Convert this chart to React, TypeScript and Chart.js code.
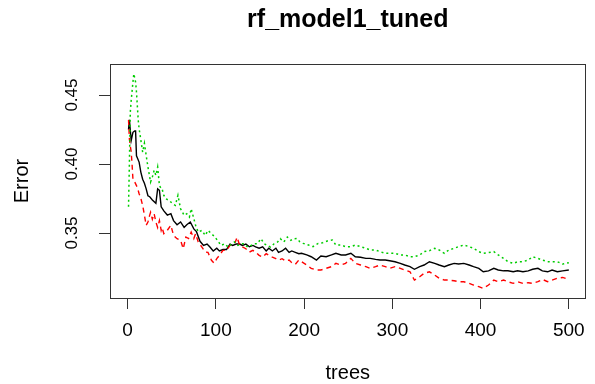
import React, { useEffect, useRef } from "react";
import { Chart, registerables } from "chart.js";

Chart.register(...registerables);

const chartTitle = "rf_model1_tuned";
const xLabel = "trees";
const yLabel = "Error";
const xTicks = [0, 100, 200, 300, 400, 500];
const yTicks = [0.35, 0.4, 0.45];

// OOB error (black, solid)
const oobTrees = [1, 2, 4, 6, 8, 9, 10, 13, 15, 17, 19, 21, 23, 25, 28, 32, 34, 36, 38, 41, 45, 49, 52, 56, 60, 64, 67, 71, 75, 78, 82, 86, 90, 93, 97, 101, 104, 108, 112, 116, 119, 123, 127, 130, 134, 138, 142, 145, 149, 153, 157, 160, 164, 168, 171, 175, 179, 183, 186, 190, 194, 197, 203, 208, 214, 219, 225, 231, 236, 242, 247, 253, 258, 264, 270, 275, 281, 286, 292, 297, 303, 309, 314, 320, 325, 331, 336, 342, 348, 353, 359, 364, 370, 375, 381, 387, 392, 398, 403, 409, 415, 420, 426, 431, 437, 442, 448, 454, 459, 465, 470, 476, 481, 487, 493, 500];
const oobErr = [0.425, 0.432, 0.417, 0.423, 0.424, 0.424, 0.406, 0.4014, 0.394, 0.389, 0.386, 0.382, 0.377, 0.3763, 0.374, 0.3715, 0.382, 0.381, 0.369, 0.366, 0.363, 0.364, 0.359, 0.356, 0.358, 0.354, 0.356, 0.358, 0.353, 0.351, 0.344, 0.341, 0.342, 0.34, 0.337, 0.339, 0.337, 0.338, 0.338, 0.342, 0.341, 0.342, 0.342, 0.341, 0.342, 0.34, 0.341, 0.34, 0.339, 0.34, 0.337, 0.339, 0.337, 0.339, 0.336, 0.337, 0.339, 0.336, 0.337, 0.336, 0.335, 0.3353, 0.3341, 0.3328, 0.3304, 0.3333, 0.3328, 0.3341, 0.3353, 0.3341, 0.3341, 0.3353, 0.3328, 0.3324, 0.3316, 0.3316, 0.3309, 0.3304, 0.3304, 0.3299, 0.3292, 0.328, 0.3268, 0.3256, 0.3237, 0.3256, 0.3268, 0.3292, 0.328, 0.3268, 0.3256, 0.3268, 0.328, 0.3275, 0.328, 0.3268, 0.3256, 0.3244, 0.3219, 0.3226, 0.3244, 0.3232, 0.3226, 0.3226, 0.3219, 0.3226, 0.3219, 0.3226, 0.3237, 0.3244, 0.3226, 0.3219, 0.3232, 0.3219, 0.3226, 0.3232];

// class 1 error (red, dashed)
const redTrees = [1, 2, 3, 4, 5, 6, 8, 11, 13, 15, 17, 19, 21, 23, 25, 26, 28, 30, 32, 34, 36, 38, 39, 41, 45, 49, 52, 56, 60, 63, 66, 69, 72, 75, 77, 80, 84, 88, 91, 95, 98, 101, 104, 108, 112, 116, 119, 122, 124, 127, 130, 134, 138, 142, 145, 149, 153, 157, 160, 164, 168, 171, 175, 179, 183, 186, 190, 194, 197, 203, 208, 214, 219, 225, 231, 236, 242, 247, 253, 258, 264, 270, 275, 281, 286, 292, 297, 303, 309, 314, 320, 325, 331, 336, 342, 348, 353, 359, 364, 370, 375, 381, 387, 392, 398, 403, 409, 415, 420, 426, 431, 437, 442, 448, 454, 459, 465, 470, 476, 481, 487, 493, 500];
const redErr = [0.432, 0.418, 0.413, 0.409, 0.4, 0.389, 0.387, 0.383, 0.3785, 0.375, 0.37, 0.363, 0.3556, 0.358, 0.363, 0.365, 0.36, 0.364, 0.358, 0.354, 0.359, 0.352, 0.354, 0.3495, 0.352, 0.3556, 0.3483, 0.3459, 0.3447, 0.3386, 0.3471, 0.346, 0.3507, 0.346, 0.3495, 0.3435, 0.3399, 0.3362, 0.336, 0.3302, 0.3281, 0.3314, 0.3338, 0.3374, 0.3374, 0.341, 0.3422, 0.3434, 0.347, 0.341, 0.3399, 0.3386, 0.3362, 0.3374, 0.3362, 0.3338, 0.3325, 0.335, 0.3338, 0.3325, 0.3314, 0.3304, 0.3314, 0.3297, 0.3304, 0.3285, 0.3273, 0.3304, 0.3292, 0.3268, 0.3244, 0.3232, 0.3232, 0.3244, 0.3256, 0.328, 0.3268, 0.328, 0.3316, 0.328, 0.3268, 0.3256, 0.3244, 0.3256, 0.3268, 0.3256, 0.3244, 0.3256, 0.3244, 0.3232, 0.3219, 0.3159, 0.3183, 0.3208, 0.3219, 0.3195, 0.3172, 0.3159, 0.3159, 0.3154, 0.3147, 0.3147, 0.3135, 0.3123, 0.3111, 0.3099, 0.3123, 0.3159, 0.3147, 0.3159, 0.3147, 0.3135, 0.3147, 0.3135, 0.314, 0.3135, 0.3147, 0.3164, 0.3147, 0.3159, 0.3172, 0.3178, 0.3164];

// class 2 error (green, dotted)
const greenTrees = [1, 2, 3, 4, 6, 7, 9, 10, 12, 13, 15, 17, 19, 21, 23, 25, 26, 28, 30, 32, 34, 36, 38, 39, 41, 43, 47, 51, 54, 57, 60, 64, 67, 70, 72, 75, 77, 80, 84, 88, 91, 95, 99, 103, 106, 110, 114, 118, 121, 125, 129, 132, 136, 140, 144, 147, 151, 155, 158, 162, 166, 170, 173, 177, 181, 185, 188, 192, 195, 199, 205, 210, 216, 221, 227, 232, 236, 242, 247, 253, 258, 264, 270, 275, 281, 286, 292, 297, 303, 309, 314, 320, 325, 331, 336, 342, 348, 353, 359, 364, 370, 375, 381, 387, 392, 398, 403, 409, 415, 420, 426, 431, 437, 442, 448, 454, 459, 465, 470, 476, 481, 487, 493, 500];
const greenErr = [0.369, 0.4014, 0.4377, 0.446, 0.4594, 0.4654, 0.4594, 0.4522, 0.4317, 0.4256, 0.4172, 0.4087, 0.415, 0.4063, 0.3978, 0.3906, 0.387, 0.3906, 0.3954, 0.3918, 0.3978, 0.3846, 0.3821, 0.3821, 0.3773, 0.3749, 0.3737, 0.3712, 0.37, 0.3773, 0.3676, 0.3628, 0.364, 0.3616, 0.3676, 0.3604, 0.3556, 0.3507, 0.3519, 0.3483, 0.3519, 0.3495, 0.3471, 0.3435, 0.341, 0.3422, 0.3398, 0.3422, 0.3435, 0.341, 0.3422, 0.3422, 0.3398, 0.341, 0.3422, 0.3422, 0.3459, 0.3422, 0.341, 0.3398, 0.3422, 0.3435, 0.3459, 0.3435, 0.3471, 0.3447, 0.3459, 0.346, 0.3437, 0.3425, 0.3413, 0.3401, 0.3425, 0.343, 0.3444, 0.3449, 0.3413, 0.3413, 0.3401, 0.3401, 0.3413, 0.3401, 0.3389, 0.3377, 0.3377, 0.3365, 0.3353, 0.3353, 0.3353, 0.3341, 0.3341, 0.3328, 0.3328, 0.3341, 0.3365, 0.3372, 0.3389, 0.3377, 0.3353, 0.3377, 0.3389, 0.3401, 0.3413, 0.3401, 0.3389, 0.3365, 0.3353, 0.3358, 0.3365, 0.3341, 0.3316, 0.3292, 0.328, 0.3292, 0.3292, 0.3304, 0.3328, 0.3316, 0.3304, 0.3292, 0.3292, 0.3292, 0.3275, 0.3285];

const FONT = "'Liberation Sans', Arial, sans-serif";

const toPoints = (xs: number[], ys: number[]) => xs.map((x, i) => ({ x, y: ys[i] }));

const rBoxPlugin = {
  id: "rBox",
  beforeDraw(chart: any) {
    const ctx = chart.ctx;
    ctx.save();
    ctx.fillStyle = "#ffffff";
    ctx.fillRect(0, 0, chart.width, chart.height);
    ctx.restore();
  },
  afterDraw(chart: any) {
    const { left, top, right, bottom } = chart.chartArea;
    const ctx = chart.ctx;
    ctx.save();
    ctx.strokeStyle = "#333333";
    ctx.lineWidth = 1;
    ctx.strokeRect(Math.round(left) + 0.5, Math.round(top) + 0.5, Math.round(right) - Math.round(left) - 1, Math.round(bottom) - Math.round(top));
    ctx.restore();
  },
};

export default function App() {
  const canvasRef = useRef<HTMLCanvasElement | null>(null);

  useEffect(() => {
    if (!canvasRef.current) return;
    const chart = new Chart(canvasRef.current, {
      type: "line",
      data: {
        datasets: [
          {
            label: "OOB",
            data: toPoints(oobTrees, oobErr),
            borderColor: "#000000",
            borderWidth: 1.4,
            pointRadius: 0,
            tension: 0,
            order: 3,
          },
          {
            label: "1",
            data: toPoints(redTrees, redErr),
            borderColor: "#ff0000",
            borderWidth: 1.4,
            borderDash: [5, 4],
            pointRadius: 0,
            tension: 0,
            order: 2,
          },
          {
            label: "2",
            data: toPoints(greenTrees, greenErr),
            borderColor: "#00cd00",
            borderWidth: 1.5,
            borderDash: [2, 3],
            pointRadius: 0,
            tension: 0,
            order: 1,
          },
        ],
      },
      options: {
        animation: false,
        responsive: false,
        maintainAspectRatio: false,
        events: [],
        layout: { padding: { left: 0, right: 1, top: 0, bottom: 0 } },
        plugins: {
          legend: { display: false },
          tooltip: { enabled: false },
          title: {
            display: true,
            text: chartTitle,
            fullSize: false,
            color: "#000000",
            font: { family: FONT, size: 25, weight: "bold", lineHeight: 1.2 },
            padding: { top: 5, bottom: 29 },
          },
        },
        scales: {
          x: {
            type: "linear",
            min: -20,
            max: 519,
            afterBuildTicks: (s: any) => {
              s.ticks = xTicks.map((v) => ({ value: v }));
            },
            afterFit: (s: any) => {
              s.height = 86;
            },
            grid: {
              display: true,
              drawOnChartArea: false,
              drawTicks: true,
              tickLength: 11,
              color: "#333333",
              lineWidth: 1,
            },
            border: { display: true, color: "#333333", width: 1 },
            ticks: {
              color: "#000000",
              font: { family: FONT, size: 19 },
              padding: 10,
              autoSkip: false,
              minRotation: 0,
              maxRotation: 0,
              callback: (v: any) => String(v),
            },
            title: {
              display: true,
              text: xLabel,
              color: "#000000",
              font: { family: FONT, size: 20, lineHeight: 1 },
              padding: { top: 0, bottom: 1 },
            },
          },
          y: {
            type: "linear",
            min: 0.3029,
            max: 0.4725,
            afterBuildTicks: (s: any) => {
              s.ticks = yTicks.map((v) => ({ value: v }));
            },
            afterFit: (s: any) => {
              s.width = 110;
            },
            grid: {
              display: true,
              drawOnChartArea: false,
              drawTicks: true,
              tickLength: 11,
              color: "#333333",
              lineWidth: 1,
            },
            border: { display: true, color: "#333333", width: 1 },
            ticks: {
              color: "#000000",
              font: { family: FONT, size: 17 },
              padding: 10,
              autoSkip: false,
              minRotation: 90,
              maxRotation: 90,
              crossAlign: "center",
              callback: (v: any) => Number(v).toFixed(2),
            },
            title: {
              display: true,
              text: yLabel,
              color: "#000000",
              font: { family: FONT, size: 20, lineHeight: 1 },
              padding: { top: 12, bottom: 0 },
            },
          },
        },
      } as any,
      plugins: [rBoxPlugin],
    });
    return () => chart.destroy();
  }, []);

  return (
    <div style={{ position: "absolute", left: 0, top: 0, width: 595, height: 384, background: "#fff" }}>
      <canvas ref={canvasRef} width={595} height={384} style={{ width: 595, height: 384, display: "block" }} />
    </div>
  );
}
